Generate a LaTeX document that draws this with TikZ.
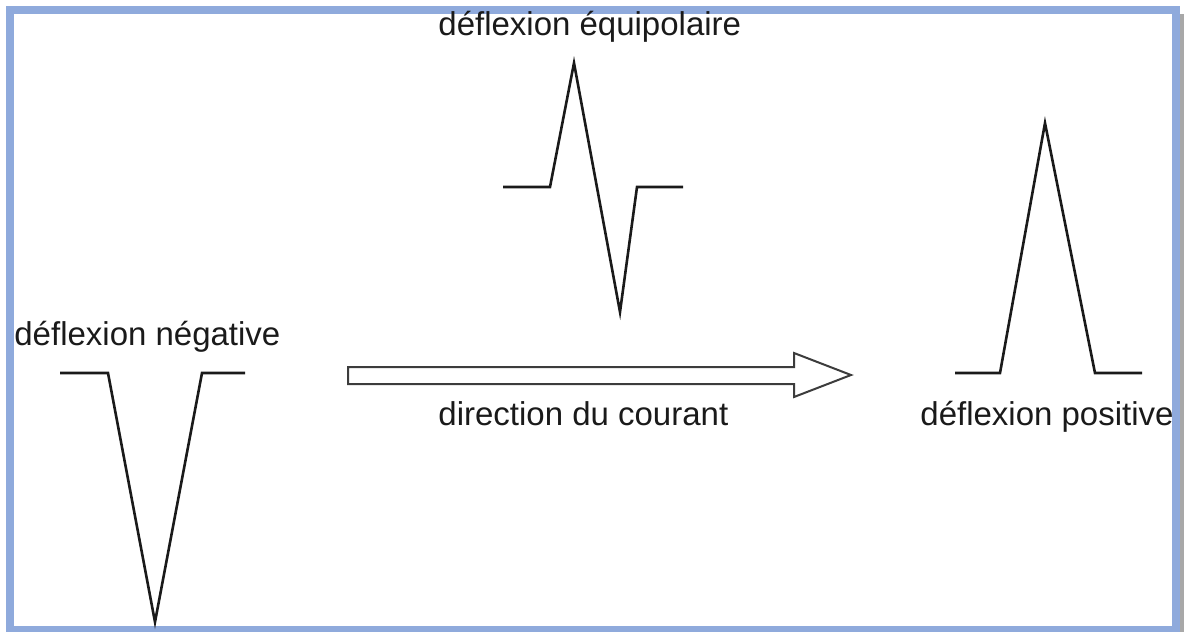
\documentclass[tikz,border=0pt]{standalone}
\usepackage{fontspec}
\setmainfont{Liberation Sans}
\usepackage{xcolor}
\usepackage{tikz}
\definecolor{FrameBlue}{HTML}{8FAADC}
\definecolor{ShadowGray}{HTML}{A8A8A8}
\definecolor{TraceBlack}{HTML}{1A1A1A}

\begin{document}
\begin{tikzpicture}[
  x=0.5pt, y=-0.5pt,
  label/.style={inner sep=0pt, anchor=base west, text=TraceBlack, font=\fontsize{16.5}{20}\selectfont},
  trace/.style={draw=TraceBlack, line width=1.3pt, line join=miter},
  current/.style={draw=TraceBlack!85, line width=1pt, fill=white, line join=miter}
]
\useasboundingbox (0,0) rectangle (1184,632);
\fill[ShadowGray] (1180,14) rectangle (1184,632);
\draw[FrameBlue, line width=4pt] (10,10) rectangle (1176,630);

% waveforms
\draw[trace] (60,373) -- (108,373) -- (155,622) -- (202,373) -- (245,373);
\draw[trace] (503,187) -- (550,187) -- (574,63) -- (620,312) -- (637,187) -- (683,187);
\draw[trace] (955,373) -- (1000,373) -- (1045,123) -- (1095,373) -- (1142,373);

% open arrow
\draw[current] (348,367) -- (794,367) -- (794,353) -- (851,375) -- (794,397) -- (794,384) -- (348,384) -- cycle;

\node[label] (negative) at (14,345) {déflexion négative};
\node[label] (equipolar) at (438,35) {déflexion équipolaire};
\node[label] (direction) at (438,425) {direction du courant};
\node[label] (positive) at (920,425) {déflexion positive};
\end{tikzpicture}
\end{document}
